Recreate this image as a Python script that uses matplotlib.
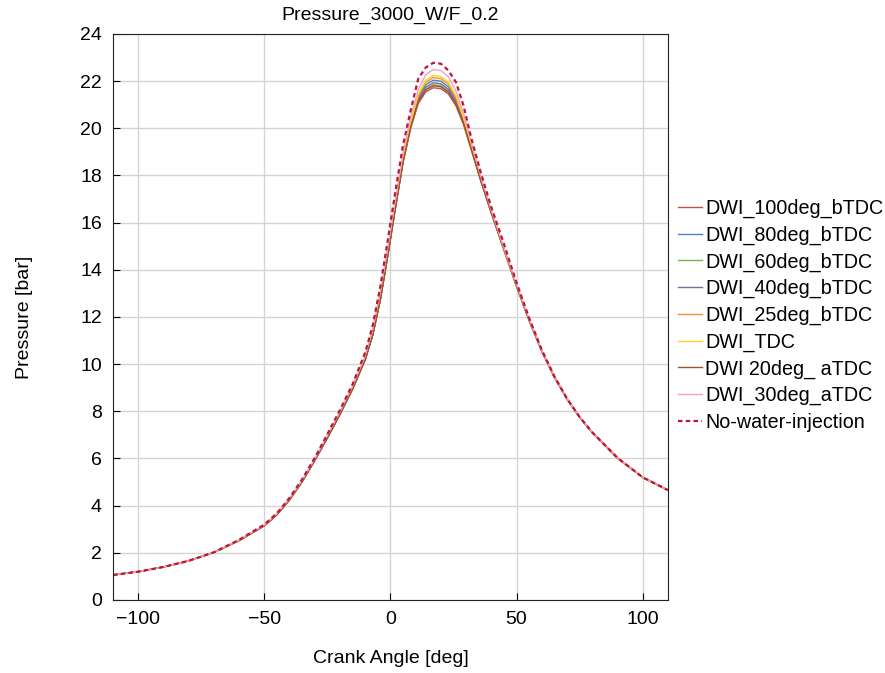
import numpy as np
import matplotlib
matplotlib.use("Agg")
import matplotlib.pyplot as plt

plt.rcParams['font.family'] = ['Liberation Sans', 'DejaVu Sans']

# crank angle [deg]
ca = [-110, -100, -90, -80, -70, -60, -50, -45, -40, -35, -30, -25, -20, -15, -10, -7, -4, -1,
      2, 5, 8, 11, 14, 17, 20, 23, 26, 29, 32, 36, 40, 45, 50, 55, 60, 65, 70, 75, 80, 90, 100, 110]

# pressure [bar]
p_100b = [1.06, 1.2, 1.4, 1.66, 2.02, 2.52, 3.15, 3.62, 4.25, 5.02, 5.92, 6.88, 7.88, 8.95, 10.2, 11.25, 12.75, 14.65,
          16.65, 18.55, 20.0, 21.05, 21.55, 21.72, 21.68, 21.45, 20.95, 20.15, 19.1, 17.7, 16.4,
          14.85, 13.3, 11.85, 10.55, 9.45, 8.52, 7.75, 7.1, 6.02, 5.2, 4.66]
p_80b = [1.06, 1.2, 1.4, 1.66, 2.02, 2.52, 3.15, 3.62, 4.25, 5.02, 5.92, 6.88, 7.88, 8.95, 10.2, 11.25, 12.75, 14.65,
         16.68, 18.65, 20.16, 21.29, 21.85, 22.04, 22.0, 21.75, 21.21, 20.34, 19.23, 17.78, 16.45,
         14.87, 13.3, 11.85, 10.55, 9.45, 8.52, 7.75, 7.1, 6.02, 5.2, 4.66]
p_60b = [1.06, 1.2, 1.4, 1.66, 2.02, 2.52, 3.15, 3.62, 4.25, 5.02, 5.92, 6.88, 7.88, 8.95, 10.2, 11.25, 12.75, 14.65,
         16.66, 18.59, 20.07, 21.15, 21.67, 21.85, 21.81, 21.57, 21.05, 20.23, 19.15, 17.73, 16.42,
         14.86, 13.3, 11.85, 10.55, 9.45, 8.52, 7.75, 7.1, 6.02, 5.2, 4.66]
p_40b = [1.06, 1.2, 1.4, 1.66, 2.02, 2.52, 3.15, 3.62, 4.25, 5.02, 5.92, 6.88, 7.88, 8.95, 10.2, 11.25, 12.75, 14.65,
         16.67, 18.61, 20.11, 21.21, 21.75, 21.93, 21.89, 21.65, 21.12, 20.28, 19.18, 17.75, 16.43,
         14.86, 13.3, 11.85, 10.55, 9.45, 8.52, 7.75, 7.1, 6.02, 5.2, 4.66]
p_25b = [1.06, 1.2, 1.4, 1.66, 2.02, 2.53, 3.17, 3.64, 4.28, 5.05, 5.96, 6.93, 7.94, 9.02, 10.3, 11.4, 12.95, 14.85,
         16.85, 18.75, 20.22, 21.37, 21.96, 22.15, 22.11, 21.86, 21.29, 20.41, 19.27, 17.81, 16.46,
         14.88, 13.32, 11.87, 10.56, 9.46, 8.53, 7.75, 7.1, 6.02, 5.2, 4.66]
p_tdc = [1.06, 1.2, 1.4, 1.66, 2.02, 2.53, 3.17, 3.64, 4.28, 5.05, 5.96, 6.93, 7.94, 9.02, 10.3, 11.4, 12.95, 14.85,
         16.88, 18.8, 20.26, 21.44, 22.04, 22.24, 22.2, 21.94, 21.37, 20.46, 19.31, 17.83, 16.48,
         14.88, 13.32, 11.87, 10.56, 9.46, 8.53, 7.75, 7.1, 6.02, 5.2, 4.66]
p_20a = [1.06, 1.2, 1.4, 1.66, 2.02, 2.52, 3.15, 3.62, 4.25, 5.02, 5.92, 6.88, 7.88, 8.95, 10.2, 11.25, 12.75, 14.65,
         16.65, 18.57, 20.04, 21.11, 21.63, 21.8, 21.76, 21.53, 21.01, 20.2, 19.13, 17.72, 16.41,
         14.85, 13.3, 11.85, 10.55, 9.45, 8.52, 7.75, 7.1, 6.02, 5.2, 4.66]
p_30a = [1.06, 1.2, 1.4, 1.66, 2.02, 2.54, 3.18, 3.66, 4.31, 5.08, 5.99, 6.98, 7.99, 9.08, 10.38, 11.5, 13.1, 15.0,
         17.0, 18.95, 20.45, 21.63, 22.28, 22.49, 22.45, 22.18, 21.57, 20.61, 19.41, 17.89, 16.52,
         14.92, 13.35, 11.9, 10.58, 9.47, 8.53, 7.76, 7.1, 6.03, 5.2, 4.66]
p_nowi = [1.06, 1.2, 1.4, 1.66, 2.02, 2.55, 3.2, 3.68, 4.33, 5.12, 6.03, 7.03, 8.06, 9.15, 10.5, 11.65, 13.3, 15.3,
          17.35, 19.3, 20.75, 22.1, 22.58, 22.78, 22.74, 22.45, 21.95, 20.95, 19.6, 18.05, 16.65,
          15.1, 13.45, 11.95, 10.6, 9.48, 8.54, 7.76, 7.11, 6.03, 5.2, 4.66]

labels = ['DWI_100deg_bTDC', 'DWI_80deg_bTDC', 'DWI_60deg_bTDC', 'DWI_40deg_bTDC',
          'DWI_25deg_bTDC', 'DWI_TDC', 'DWI 20deg_ aTDC', 'DWI_30deg_aTDC']
series = [p_100b, p_80b, p_60b, p_40b, p_25b, p_tdc, p_20a, p_30a]
colors = ['#c0504d', '#4f81bd', '#77b255', '#7f6a9e', '#f0962f', '#ffd21f', '#a0522d', '#f4a3b8']

fig = plt.figure(figsize=(8.85, 6.73), dpi=100)
ax = fig.add_axes([0.1277, 0.1085, 0.627, 0.841])

for p, lab, c in zip(series, labels, colors):
    ax.plot(ca, p, color=c, lw=1.0, label=lab)
ax.plot(ca, p_nowi, color='#c0143c', lw=1.6, ls=(0, (2, 1.5)), label='No-water-injection')

ax.set_xlim(-110, 110)
ax.set_ylim(0, 24)
ax.set_yticks(np.arange(0, 25, 2))
ax.set_xticks([-100, -50, 0, 50, 100])
ax.grid(True, color='#d4d4d4', lw=1.0)
ax.tick_params(direction='in', length=5, labelsize=14, pad=8, top=False, right=False)
for s in ax.spines.values():
    s.set_color('#222222')

ax.set_title('Pressure_3000_W/F_0.2', fontsize=14, pad=10)
ax.set_xlabel('Crank Angle [deg]', fontsize=14, labelpad=16)
ax.set_ylabel('Pressure [bar]', fontsize=14, labelpad=34)

ax.legend(loc='center left', bbox_to_anchor=(1.0, 0.503), frameon=False,
          fontsize=14.2, handlelength=1.25, handletextpad=0.15, labelspacing=0.38,
          borderaxespad=0.1)

fig.savefig('out.png', dpi=100)
